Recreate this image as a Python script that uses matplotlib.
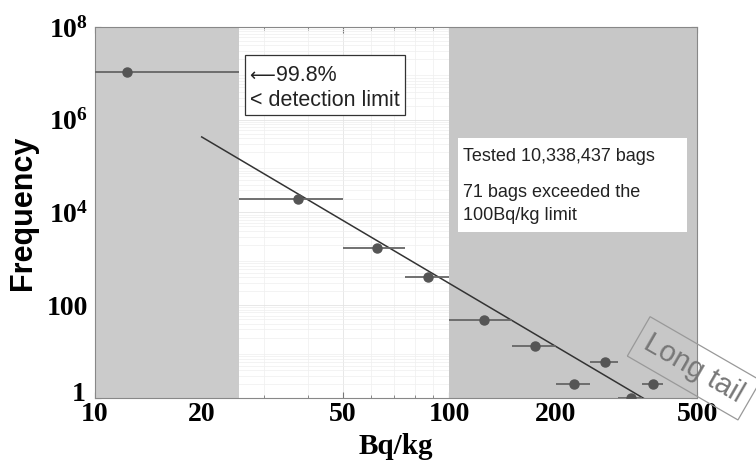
import matplotlib
matplotlib.use("Agg")
import matplotlib.pyplot as plt
import numpy as np
from matplotlib.patches import Rectangle
from matplotlib.ticker import FixedLocator, FixedFormatter, NullFormatter, LogLocator
from matplotlib.transforms import offset_copy

# ---- data ----
x_center = [12.3, 37.4, 62.5, 87.0, 125.0, 175.0, 225.0, 275.0, 326.0, 376.0]
x_low    = [10.0, 25.5, 50.0, 75.0, 100.0, 150.0, 200.0, 250.0, 300.0, 350.0]
x_high   = [25.5, 50.0, 75.0, 100.0, 150.0, 200.0, 250.0, 300.0, 350.0, 400.0]
freq     = [1.06e7, 2.0e4, 1.7e3, 405, 48, 13, 2, 6, 1, 2]

fit_log_amplitude = 11.51   # log10 of A in y = A * x^-k
fit_exponent = 4.52
fit_x_range = [20, 500]

shade_low = [10, 25.5]
shade_high = [100, 500]

x_ticks = [10, 20, 50, 100, 200, 500]
x_tick_labels = ["10", "20", "50", "100", "200", "500"]
y_ticks = [1, 1e2, 1e4, 1e6, 1e8]
y_tick_labels = ["1", "100", r"$\mathbf{10^4}$", r"$\mathbf{10^6}$", r"$\mathbf{10^8}$"]

plt.rcParams['mathtext.fontset'] = 'custom'
plt.rcParams['mathtext.rm'] = 'Liberation Serif'
plt.rcParams['mathtext.bf'] = 'Liberation Serif:bold'

fig = plt.figure(figsize=(7.56, 4.68), dpi=100)
ax = fig.add_axes([0.1257, 0.1496, 0.7963, 0.7927])
ax.set_xscale('log')
ax.set_yscale('log')
ax.set_xlim(10, 500)
ax.set_ylim(1, 1e8)

# grid
ax.grid(True, which='major', color='#e4e4e4', lw=0.6, zorder=0)
ax.grid(True, which='minor', color='#efefef', lw=0.5, zorder=0)
ax.set_axisbelow(True)

# shaded regions
ax.axvspan(shade_low[0], shade_low[1], color='#cbcbcb', lw=0, zorder=1)
ax.axvspan(shade_high[0], shade_high[1], color='#c7c7c7', lw=0, zorder=1)

# fit line
fx = np.array(fit_x_range, dtype=float)
fy = 10 ** fit_log_amplitude * fx ** (-fit_exponent)
ax.plot(fx, fy, color='#333333', lw=1.1, zorder=3)

# data with horizontal error bars
xc = np.array(x_center)
xerr = np.array([xc - np.array(x_low), np.array(x_high) - xc])
ax.errorbar(xc, freq, xerr=xerr, fmt='o', color='#555555', ecolor='#666666',
            elinewidth=1.3, ms=6.5, capsize=0, zorder=4)

# ticks
ax.xaxis.set_major_locator(FixedLocator(x_ticks))
ax.xaxis.set_major_formatter(FixedFormatter(x_tick_labels))
ax.xaxis.set_minor_formatter(NullFormatter())
ax.yaxis.set_major_locator(FixedLocator(y_ticks))
ax.yaxis.set_major_formatter(FixedFormatter(y_tick_labels))
ax.yaxis.set_minor_locator(LogLocator(base=10, subs=np.arange(2, 10), numticks=20))
ax.yaxis.set_minor_formatter(NullFormatter())
ax.tick_params(which='both', direction='in', top=True, right=True, color='#777777')
ax.tick_params(which='major', length=4)
ax.tick_params(which='minor', length=2)
for lab in ax.get_xticklabels() + ax.get_yticklabels():
    lab.set_fontfamily('Liberation Serif')
    lab.set_fontweight('bold')
    lab.set_fontsize(20)
ax.tick_params(axis='x', pad=3)
ax.tick_params(axis='y', pad=5)
for s in ax.spines.values():
    s.set_color('#888888')
    s.set_linewidth(0.8)

ax.set_xlabel('Bq/kg', fontfamily='Liberation Serif', fontweight='bold', fontsize=21, labelpad=4)
ax.set_ylabel('Frequency', fontfamily='Liberation Sans', fontweight='bold', fontsize=22, labelpad=6)

# annotation 1 (boxed)
ax.add_patch(Rectangle((0.249, 0.763), 0.266, 0.162, transform=ax.transAxes,
                       fc='white', ec='#333333', lw=0.9, zorder=5))
ax.text(0.256, 0.868, "\u27f5", transform=ax.transAxes, ha='left', va='center',
        fontsize=13, family='DejaVu Sans', color='#222222', zorder=6)
ax.text(0.300, 0.868, "99.8%", transform=ax.transAxes, ha='left', va='center',
        fontsize=15.5, family='Liberation Sans', color='#222222', zorder=6)
ax.text(0.257, 0.803, "< detection limit", transform=ax.transAxes, ha='left', va='center',
        fontsize=15.5, family='Liberation Sans', color='#222222', zorder=6)

# annotation 2 (white panel)
ax.add_patch(Rectangle((0.603, 0.447), 0.380, 0.253, transform=ax.transAxes,
                       fc='white', ec='none', zorder=5))
ax.text(0.611, 0.650, "Tested 10,338,437 bags", transform=ax.transAxes, ha='left', va='center',
        fontsize=13, family='Liberation Sans', color='#222222', zorder=6)
ax.text(0.611, 0.553, "71 bags exceeded the", transform=ax.transAxes, ha='left', va='center',
        fontsize=13, family='Liberation Sans', color='#222222', zorder=6)
ax.text(0.611, 0.491, "100Bq/kg limit", transform=ax.transAxes, ha='left', va='center',
        fontsize=13, family='Liberation Sans', color='#222222', zorder=6)

# long tail label
ax.text(0.995, 0.08, "Long tail", transform=ax.transAxes, ha='center', va='center',
        rotation=-30, fontsize=21, family='Liberation Sans', color='#777777',
        clip_on=False, zorder=7,
        bbox=dict(boxstyle='square,pad=0.3', fc='none', ec='#999999', lw=0.9))

fig.canvas.draw()
# nudge the "1" y tick label up slightly so it sits above the "10" x tick label
ylab1 = ax.get_yticklabels()[0]
ylab1.set_transform(offset_copy(ylab1.get_transform(), fig=fig, x=-2, y=5, units='points'))

fig.savefig('out.png', dpi=100, facecolor='white')
